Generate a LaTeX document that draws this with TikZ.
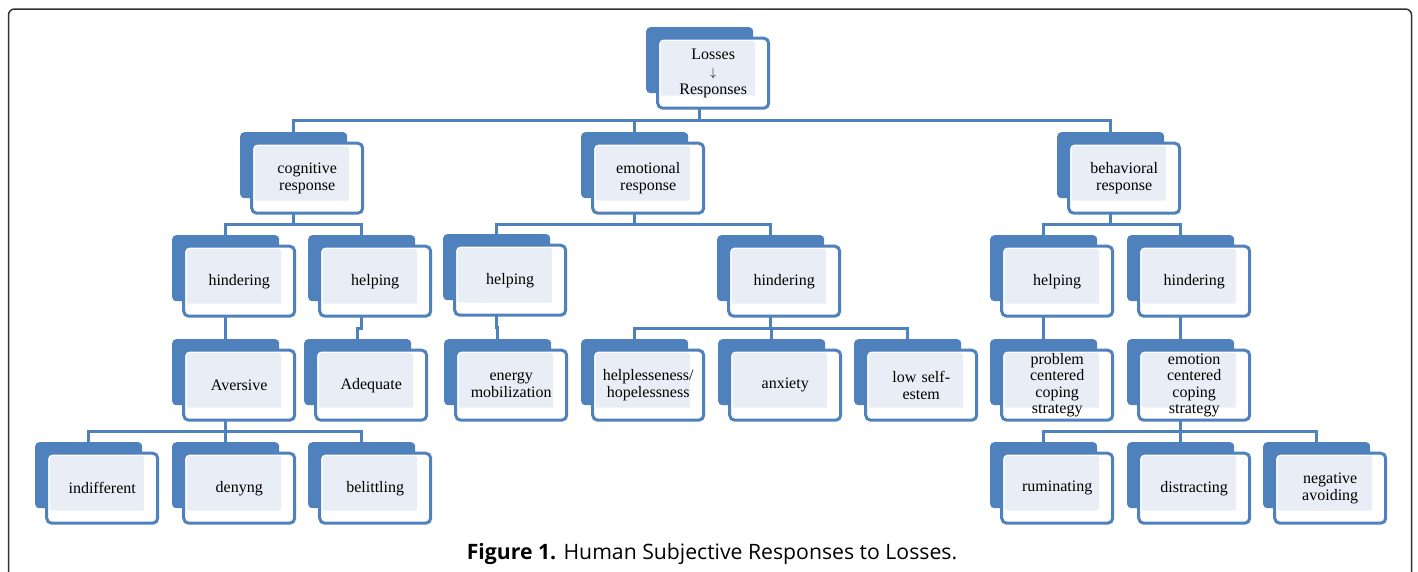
\documentclass[tikz,border=0pt]{standalone}
\usepackage{fontspec}
\setmainfont{Liberation Serif}
\newfontfamily\capfont{Open Sans}
\usetikzlibrary{calc,backgrounds}
\definecolor{boxblue}{HTML}{4F81BD}
\definecolor{boxlight}{HTML}{E9EEF6}
\definecolor{framegray}{HTML}{333333}
\tikzset{
  backbox/.style={fill=boxblue, rounded corners=4pt, minimum width=107pt,
    minimum height=66pt, inner sep=0pt, anchor=north west},
  frontbox/.style={draw=boxblue, fill=white, line width=3pt, rounded corners=5pt,
    minimum width=111pt, minimum height=70pt, inner sep=0pt, text width=104pt,
    align=center, font=\fontsize{16}{16.5}\selectfont,
    path picture={\fill[boxlight, rounded corners=2pt]
      ([shift={(3pt,-3pt)}]path picture bounding box.north west) rectangle
      ([shift={(-13.5pt,12.5pt)}]path picture bounding box.south east);}},
  conn/.style={draw=boxblue, line width=3pt},
}
% back box (named) and front box with text (name-f)
\newcommand\stackbox[4]{%
  \node[backbox] (#1) at (#2,#3) {};
  \node[frontbox] (#1-f) at ([shift={(13.5pt,-13pt)}]#1.center) {#4};
}

\begin{document}
\begin{tikzpicture}[x=1pt,y=-1pt]
  \useasboundingbox (0,0) rectangle (1418,571);
  \draw[framegray, line width=1.5pt, rounded corners=6pt]
    (8.5,590) |- (1411.5,9) -- (1411.5,590);

  \stackbox{loss}{646}{27}{Losses\\[1pt]{\fontsize{12}{12}\selectfont$\downarrow$}\\[1pt]Responses}
  \stackbox{cog}{240}{132}{cognitive\\response}
  \stackbox{emo}{581}{132}{emotional\\response}
  \stackbox{beh}{1057}{132}{behavioral\\response}

  \stackbox{coghin}{172}{235}{hindering}
  \stackbox{coghel}{308}{235}{helping}
  \stackbox{emohel}{443}{234}{helping}
  \stackbox{emohin}{717}{235}{hindering}
  \stackbox{behhel}{990}{235}{helping}
  \stackbox{behhin}{1127}{235}{hindering}

  \stackbox{aver}{172}{339}{Aversive}
  \stackbox{adeq}{304}{339}{Adequate}
  \stackbox{energy}{444}{339}{energy\\mobilization}
  \stackbox{hopel}{581}{339}{helplesseness/\\hopelessness}
  \stackbox{anx}{718}{339}{anxiety}
  \stackbox{self}{854}{339}{low self-\\estem}
  \stackbox{probl}{990}{339}{problem\\centered\\coping\\strategy}
  \stackbox{emocen}{1127}{339}{emotion\\centered\\coping\\strategy}

  \stackbox{indiff}{35}{442}{indifferent}
  \stackbox{deny}{172}{442}{denyng}
  \stackbox{belit}{308}{442}{belittling}
  \stackbox{rumin}{990}{442}{ruminating}
  \stackbox{distr}{1127}{442}{distracting}
  \stackbox{negav}{1263}{442}{negative\\avoiding}

  % connectors
  \begin{scope}[on background layer]
    \foreach \p/\cs in {loss/{cog,emo,beh}, cog/{coghin,coghel}, emo/{emohel,emohin},
        beh/{behhel,behhin}, coghin/{aver}, coghel/{adeq}, emohel/{energy},
        emohin/{hopel,anx,self}, behhel/{probl}, behhin/{emocen},
        aver/{indiff,deny,belit}, emocen/{rumin,distr,negav}}{
      \foreach \c in \cs {
        \coordinate (m) at ($(\p-f.south)!.5!(\c.north)$);
        \draw[conn] (\p.south) |- (\c.north |- m) -- (\c.north);
      }
    }
  \end{scope}

  \node[font=\capfont\fontsize{21.2}{25}\selectfont, anchor=base] (cap) at (712,559)
    {\textbf{Figure 1.} Human Subjective Responses to Losses.};
\end{tikzpicture}
\end{document}
